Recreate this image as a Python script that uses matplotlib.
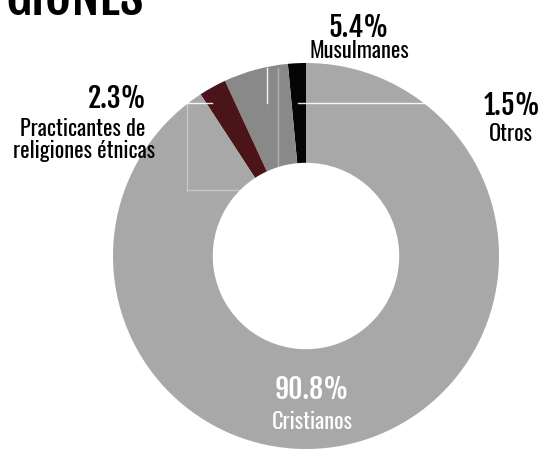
import matplotlib.pyplot as plt

W, H = 545, 454

# datos
labels = ['Otros', 'Musulmanes', 'Practicantes de\nreligiones étnicas', 'Cristianos']
values = [1.5, 5.4, 2.3, 90.8]
pct_text = ['1.5%', '5.4%', '2.3%', '90.8%']
colors = ['#050505', '#898989', '#4a1418', '#a8a8a8']

plt.rcParams['font.family'] = ['Oswald', 'DejaVu Sans']
pct_font = ['Fjalla One', 'Oswald', 'DejaVu Sans']


def px(x, y):
    return x / W, 1 - y / H


fig = plt.figure(figsize=(W / 100, H / 100), dpi=100)
fig.patch.set_facecolor('white')

cx, cy, r = 306, 256, 193
ax = fig.add_axes([(cx - r) / W, (H - cy - r) / H, 2 * r / W, 2 * r / H])
ax.pie(values, colors=colors, startangle=90, counterclock=True,
       wedgeprops=dict(width=0.517, linewidth=0))
ax.set_xlim(-1, 1)
ax.set_ylim(-1, 1)
ax.axis('off')

# lineas guia blancas (restos del original)
guides = [((267, 267), (68, 103)), ((298, 437), (103, 103)), ((187, 212), (103, 103)),
          ((278, 278), (68, 190)), ((187, 187), (103, 190)), ((187, 278), (190, 190))]
for i, (xs, ys) in enumerate(guides):
    fig.add_artist(plt.Line2D([x / W for x in xs], [1 - y / H for y in ys],
                              color='white', lw=1, alpha=0.9 if i < 3 else 0.35))

# titulo cortado
fig.text(*px(5, 15), 'GIONES', fontsize=37, family=pct_font, ha='left', va='baseline')

# etiquetas
big, small = 20, 16
fig.text(*px(359, 37), pct_text[1], fontsize=big, family=pct_font, ha='center', va='baseline')
fig.text(*px(359, 58), labels[1], fontsize=small, ha='center', va='baseline')

fig.text(*px(147, 108), pct_text[2], fontsize=big, family=pct_font, ha='right', va='baseline')
fig.text(*px(145, 136), 'Practicantes de', fontsize=small, ha='right', va='baseline')
fig.text(*px(155, 158), 'religiones étnicas', fontsize=small, ha='right', va='baseline')

fig.text(*px(512, 115), pct_text[0], fontsize=big, family=pct_font, ha='center', va='baseline')
fig.text(*px(511, 141), labels[0], fontsize=small, ha='center', va='baseline')

fig.text(*px(312, 399), pct_text[3], fontsize=big, family=pct_font, color='white', ha='center', va='baseline')
fig.text(*px(312, 429), labels[3], fontsize=small, color='white', ha='center', va='baseline')

fig.savefig('out.png', dpi=100, facecolor='white')
